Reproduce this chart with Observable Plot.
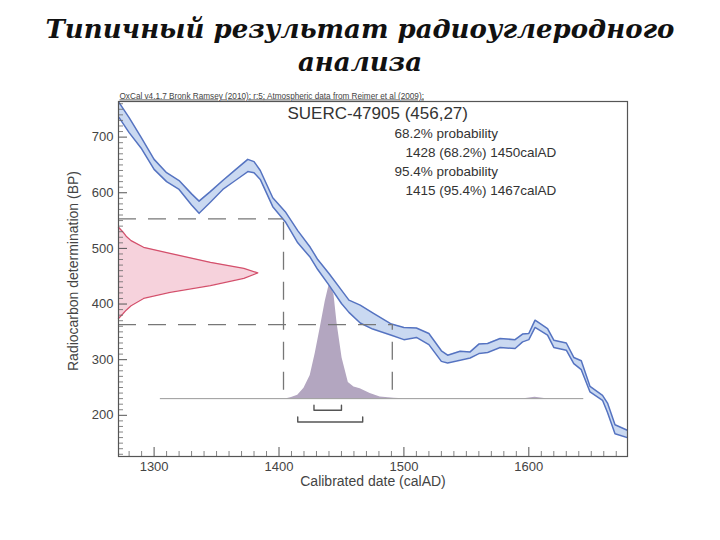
<!DOCTYPE html>
<html><head><meta charset="utf-8">
<script src="https://cdn.jsdelivr.net/npm/d3@7"></script>
<script src="https://cdn.jsdelivr.net/npm/@observablehq/plot@0.6"></script>
<style>
body{margin:0;background:#fff;width:720px;height:540px;overflow:hidden}
#title{height:88px;box-sizing:border-box;padding-top:13px;text-align:center;font-family:"DejaVu Serif",serif;font-weight:bold;font-style:italic;font-size:26px;line-height:33px;color:#111}
#chart svg{display:block}
</style></head><body>
<div id="title">Типичный результат радиоуглеродного<br>анализа</div>
<div id="chart"></div>
<script>
// ---- data ----
const headerText = "OxCal v4.1.7 Bronk Ramsey (2010); r:5; Atmospheric data from Reimer et al (2009);";
const sampleLabel = "SUERC-47905 (456,27)";
const probLines = ["68.2% probability", "1428 (68.2%) 1450calAD", "95.4% probability", "1415 (95.4%) 1467calAD"];
const xTitle = "Calibrated date (calAD)";
const yTitle = "Radiocarbon determination (BP)";

const xTicks = [1300, 1400, 1500, 1600];
const yTicks = [200, 300, 400, 500, 600, 700];

// calibration curve (upper / lower edge of the band, BP)
const curveYears = [1272,1280,1290,1300,1310,1320,1330,1336,1345,1355,1365,1375,1380,1385,1395,1405,1415,1425,1431,1440,1450,1456,1465,1475,1490,1500,1510,1520,1530,1535,1545,1553,1560,1567,1577,1589,1595,1600,1605,1615,1620,1630,1636,1642,1649,1659,1663,1669,1679];
const curveUpper = [762,735,698,660,636,622,598,585,602,622,641,660,656,640,591,566,532,502,480,455,425,407,398,384,364,358,357,347,316,308,315,314,328,329,338,336,346,347,371,356,335,330,304,298,252,236,222,183,173];
const curveLower = [735,708,679,642,620,606,578,563,583,606,622,638,636,624,575,548,510,484,462,434,401,385,366,355,344,336,340,327,297,294,299,303,311,313,322,320,332,336,358,344,322,317,293,282,242,227,205,167,160];

// radiocarbon measurement 456 ± 27 BP (relative density read from the red shape)
const radioBP      = [538,530,522,514,502,491,475,464,456,446,433,421,410,397,389,382,374];
const radioDensity = [0,0.03,0.055,0.09,0.18,0.37,0.66,0.9,1,0.9,0.66,0.37,0.18,0.09,0.055,0.03,0];

// calibrated posterior (relative probability)
const postYears = [1406,1410,1415,1420,1425,1429,1433,1437,1440.5,1444,1446.5,1450.5,1455.5,1460,1465,1473,1481,1492,1500,1596,1605,1614];
const postProb  = [0,0.01,0.03,0.09,0.2,0.39,0.61,0.84,1.0,0.9,0.65,0.35,0.14,0.1,0.086,0.045,0.015,0.004,0,0,0.012,0];

// ranges
const range68 = [1428, 1450];
const range95 = [1415, 1467];
const cutBP = [553, 363];          // horizontal dashed levels
const cutYears = [1403.6, 1490.7]; // vertical dashed lines

// ---- layout ----
const W = 720, H = 452;
const mL = 118, mR = 93, mT = 13, mB = 84;
const fw = W - mL - mR, fh = H - mT - mB;
const xDom = [1271.5, 1679], yDom = [126, 764];

const curve = curveYears.map((x, i) => ({x, hi: curveUpper[i], lo: curveLower[i]}));
const radioSpan = 111.5; // years reached by the density peak
const radio = radioBP.map((y, i) => ({y, x: xDom[0] + radioDensity[i] * radioSpan}));
const postBase = 230, postHeight = 208;
const post = postYears.map((x, i) => ({x, y: postBase + postProb[i] * postHeight}));

const bracket = (r, yb, t) => [{x: r[0], y: yb + t}, {x: r[0], y: yb}, {x: r[1], y: yb}, {x: r[1], y: yb + t}];

const yMinor = d3.range(130, 761, 10).filter(v => v % 100 !== 0);
const xMinor = d3.range(1280, 1680, 10).filter(v => v % 100 !== 0);

const dash = {stroke: "#777", strokeWidth: 1.3, strokeDasharray: "18,12"};
const curveStroke = "#5573c1";

const chart = Plot.plot({
  width: W, height: H,
  marginLeft: mL, marginRight: mR, marginTop: mT, marginBottom: mB,
  style: {fontFamily: "'Liberation Sans', Arial, sans-serif", fontSize: "13px", color: "#444", background: "#fff"},
  x: {domain: xDom, ticks: xTicks, tickSize: 0, tickPadding: 5, tickFormat: "d", label: null},
  y: {domain: yDom, ticks: yTicks, tickSize: 0, tickPadding: 5, tickFormat: "d", label: null},
  marks: [
    // posterior
    Plot.areaY(post, {x: "x", y1: postBase, y2: "y", fill: "#b3a6c0"}),
    Plot.ruleY([postBase], {x1: 1305, x2: 1644, stroke: "#9a9a9a", strokeWidth: 1}),
    // radiocarbon measurement
    Plot.areaX(radio, {y: "y", x1: xDom[0], x2: "x", fill: "#f6d2dc"}),
    Plot.line(radio, {x: "x", y: "y", stroke: "#d4506c", strokeWidth: 1.3}),
    // calibration curve
    Plot.areaY(curve, {x: "x", y1: "lo", y2: "hi", fill: "#cad9f1", clip: true}),
    Plot.line(curve, {x: "x", y: "hi", stroke: curveStroke, strokeWidth: 1.5, clip: true}),
    Plot.line(curve, {x: "x", y: "lo", stroke: curveStroke, strokeWidth: 1.5, clip: true}),
    // dashed projection lines
    Plot.ruleY([cutBP[0]], {x1: xDom[0], x2: cutYears[0], ...dash}),
    Plot.ruleY([cutBP[1]], {x1: xDom[0], x2: cutYears[1], ...dash}),
    Plot.ruleX([cutYears[0]], {y1: 245, y2: cutBP[0], ...dash}),
    Plot.ruleX([cutYears[1]], {y1: 245, y2: cutBP[1], ...dash}),
    // range brackets
    Plot.line(bracket(range68, 209, 9), {x: "x", y: "y", stroke: "#555", strokeWidth: 1.4}),
    Plot.line(bracket(range95, 188, 9), {x: "x", y: "y", stroke: "#555", strokeWidth: 1.4}),
    // inward ticks
    Plot.tickY(yTicks, {y: d => d, insetRight: fw - 9, stroke: "#555"}),
    Plot.tickY(yMinor, {y: d => d, insetRight: fw - 5, stroke: "#666", strokeWidth: 0.8}),
    Plot.tickX(xTicks, {x: d => d, insetTop: fh - 9, stroke: "#555"}),
    Plot.tickX(xMinor, {x: d => d, insetTop: fh - 5, stroke: "#666", strokeWidth: 0.8}),
    Plot.frame({stroke: "#555", strokeWidth: 1.2}),
    // texts
    Plot.text([headerText], {text: d => d, frameAnchor: "top-left", dx: 1, dy: -3, lineAnchor: "bottom", textAnchor: "start", fontSize: 8.2, fill: "#444"}),
    Plot.text([sampleLabel], {text: d => d, frameAnchor: "top-left", dx: 169, dy: 12, lineAnchor: "middle", textAnchor: "start", fontSize: 17, fill: "#333"}),
    Plot.text([probLines[0]], {text: d => d, frameAnchor: "top-left", dx: 276, dy: 32, lineAnchor: "middle", textAnchor: "start", fontSize: 13.5, fill: "#333"}),
    Plot.text([probLines[1]], {text: d => d, frameAnchor: "top-left", dx: 287, dy: 51, lineAnchor: "middle", textAnchor: "start", fontSize: 13.5, fill: "#333"}),
    Plot.text([probLines[2]], {text: d => d, frameAnchor: "top-left", dx: 276, dy: 70, lineAnchor: "middle", textAnchor: "start", fontSize: 13.5, fill: "#333"}),
    Plot.text([probLines[3]], {text: d => d, frameAnchor: "top-left", dx: 287, dy: 89, lineAnchor: "middle", textAnchor: "start", fontSize: 13.5, fill: "#333"}),
    Plot.text([xTitle], {text: d => d, frameAnchor: "bottom", dy: 29, fontSize: 14, fill: "#444"}),
    Plot.text([yTitle], {text: d => d, frameAnchor: "left", dx: -45, dy: -8, rotate: -90, textAnchor: "middle", lineAnchor: "middle", fontSize: 14, fill: "#444"})
  ]
});
document.getElementById("chart").appendChild(chart);
const hdr = [...chart.querySelectorAll("text")].find(e => e.textContent.startsWith("OxCal"));
if (hdr) hdr.style.textDecoration = "underline";
</script>
</body></html>
